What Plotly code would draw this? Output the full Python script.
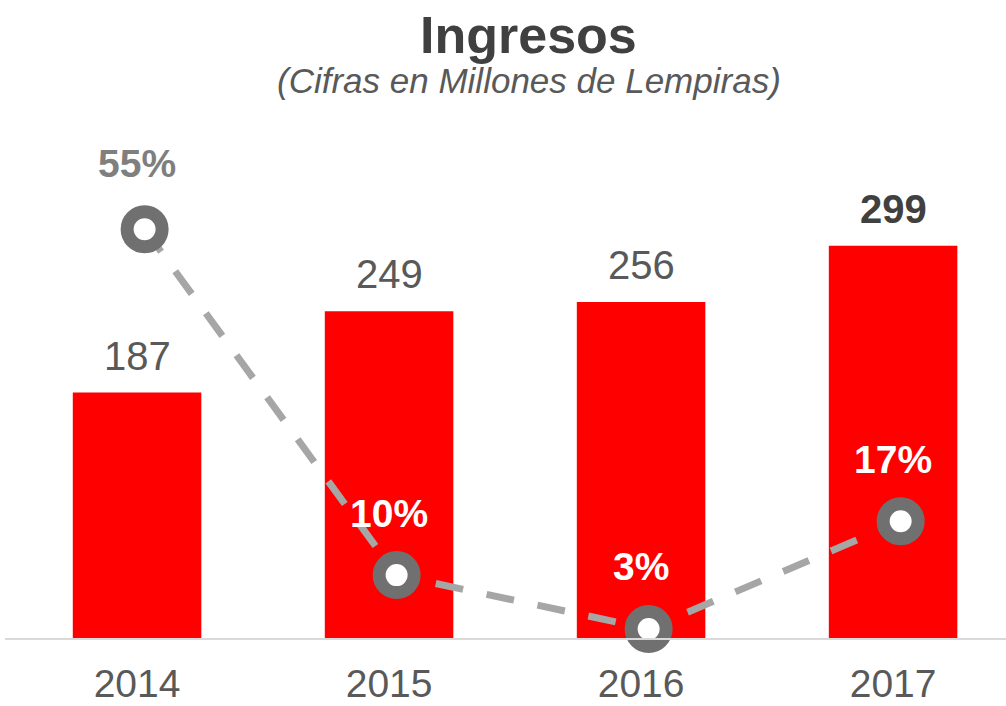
import plotly.graph_objects as go

years = ["2014", "2015", "2016", "2017"]
ingresos = [187, 249, 256, 299]
crecimiento = [0.55, 0.10, 0.03, 0.17]
bar_labels = ["187", "249", "256", "<b>299</b>"]
pct_labels = ["55%", "10%", "3%", "17%"]
pct_colors = ["#7F7F7F", "#FFFFFF", "#FFFFFF", "#FFFFFF"]

xpos = list(range(len(years)))
FONT = "Liberation Sans, Arial, sans-serif"

fig = go.Figure()
fig.add_trace(go.Bar(
    x=xpos, y=ingresos, width=0.51,
    marker=dict(color="#FF0000", line=dict(width=0)),
    xaxis="x", yaxis="y", showlegend=False, hoverinfo="skip",
))
fig.add_trace(go.Scatter(
    x=xpos, y=crecimiento, xaxis="x2", yaxis="y2", mode="lines+markers",
    line=dict(color="#A6A6A6", width=7, dash="28px,24px"),
    marker=dict(size=35, color="#FFFFFF", line=dict(color="#707070", width=13)),
    cliponaxis=False, showlegend=False, hoverinfo="skip",
))

annotations = []
for i, (v, t) in enumerate(zip(ingresos, bar_labels)):
    annotations.append(dict(
        x=xpos[i], y=v, xref="x", yref="y", text=t, showarrow=False,
        yanchor="middle", yshift=37,
        font=dict(family=FONT, size=40, color="#404040" if i == 3 else "#595959"),
    ))
for i, (v, t) in enumerate(zip(crecimiento, pct_labels)):
    annotations.append(dict(
        x=xpos[i], y=v, xref="x", yref="y2", text="<b>" + t + "</b>", showarrow=False,
        yanchor="middle", yshift=66 if i == 0 else 62,
        font=dict(family=FONT, size=39, color=pct_colors[i]),
    ))
annotations.append(dict(
    x=0.523, y=1.121, xref="paper", yref="paper", text="<b>Ingresos</b>",
    showarrow=False, yanchor="middle",
    font=dict(family=FONT, size=52, color="#404040"),
))
annotations.append(dict(
    x=0.523, y=1.037, xref="paper", yref="paper",
    text="<i>(Cifras en Millones de Lempiras)</i>",
    showarrow=False, yanchor="middle",
    font=dict(family=FONT, size=35, color="#595959"),
))

fig.update_layout(
    width=1006, height=706,
    margin=dict(l=5, r=0, t=100, b=68),
    paper_bgcolor="#FFFFFF", plot_bgcolor="#FFFFFF",
    xaxis=dict(
        range=[-0.524, 3.448], tickvals=xpos, ticktext=years,
        showgrid=False, zeroline=False, showline=True,
        linecolor="#D9D9D9", linewidth=2, ticks="",
        tickfont=dict(family=FONT, size=39, color="#595959"),
        ticklabelstandoff=10, automargin=False,
    ),
    xaxis2=dict(range=[-0.554, 3.418], overlaying="x", visible=False,
                showgrid=False, zeroline=False),
    yaxis=dict(range=[0, 410], visible=False, showgrid=False, zeroline=False),
    yaxis2=dict(range=[0.0182, 0.718], overlaying="y", visible=False,
                showgrid=False, zeroline=False),
    annotations=annotations,
    bargap=0.49,
)

fig.write_html("out.html", config={"displayModeBar": False},
               post_script="document.body.style.margin='0';")
